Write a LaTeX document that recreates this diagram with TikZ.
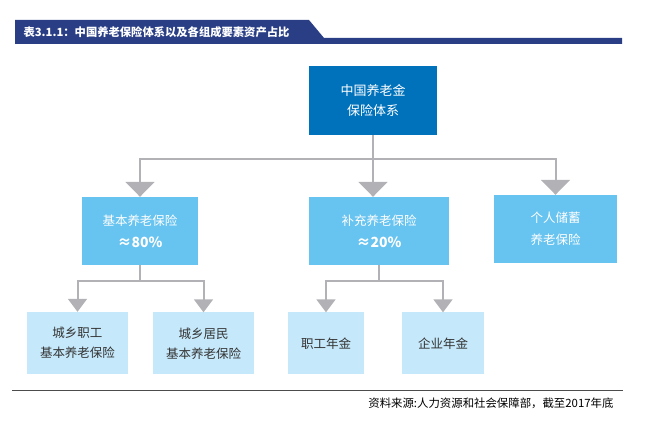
\documentclass[tikz,border=0pt]{standalone}
\usepackage{fontspec}
\newfontfamily\cjk{Noto Sans CJK SC}
\usetikzlibrary{arrows.meta}
\definecolor{headblue}{RGB}{41,62,133}
\definecolor{topblue}{RGB}{0,114,188}
\definecolor{midblue}{RGB}{103,195,240}
\definecolor{lowblue}{RGB}{197,232,250}
\definecolor{linegray}{RGB}{178,178,182}
\definecolor{textgray}{RGB}{51,51,51}

\begin{document}
\begin{tikzpicture}[x=1pt, y=-1pt,
    topbox/.style={fill=topblue, text=white, inner sep=0pt, minimum width=128pt, minimum height=69pt, align=center, font=\cjk\fontsize{13}{20}\selectfont},
    midbox/.style={fill=midblue, text=white, inner sep=0pt, minimum height=68pt, align=center, font=\cjk\fontsize{12.5}{22}\selectfont},
    lowbox/.style={fill=lowblue, text=textgray, inner sep=0pt, minimum height=62pt, align=center, font=\cjk\fontsize{12.5}{20}\selectfont},
    link/.style={draw=linegray, line width=2pt},
    bigarrow/.style={link, -{Triangle[length=15pt,width=29pt]}},
    smallarrow/.style={link, -{Triangle[length=13pt,width=19pt]}}]
      \useasboundingbox (0,0) rectangle (649,422);
      % title bar
      \fill[headblue] (15,20) -- (309,20) -- (324,38) -- (622,38) -- (622,44) -- (15,44) -- cycle;
      \node[anchor=west, text=white, font=\cjk\bfseries\fontsize{11.3}{12}\selectfont] (title) at (20,32) {表3.1.1：中国养老保险体系以及各组成要素资产占比};
      % boxes
      \node[topbox] (pension) at (373,100.5) {中国养老金\\保险体系};
      \node[midbox, minimum width=116pt] (basic) at (140,231) {基本养老保险\\{\bfseries\fontsize{14}{14}\selectfont ≈80\%}};
      \node[midbox, minimum width=140pt] (suppl) at (379,231) {补充养老保险\\{\bfseries\fontsize{14}{14}\selectfont ≈20\%}};
      \node[midbox, minimum width=123pt] (private) at (555.5,229) {个人储蓄\\养老保险};
      \node[lowbox, minimum width=101pt] (urbanworker) at (77.5,343) {城乡职工\\基本养老保险};
      \node[lowbox, minimum width=101pt] (urbanresident) at (203.5,343.5) {城乡居民\\基本养老保险};
      \node[lowbox, minimum width=76pt] (occupational) at (326,343.5) {职工年金};
      \node[lowbox, minimum width=82pt] (enterprise) at (443,343.5) {企业年金};
      % connectors
      \coordinate (bus) at (373,159);
      \draw[link] (pension.south) -- (bus);
      \draw[bigarrow] (bus) -| (basic.north);
      \draw[bigarrow] (bus) -- (bus |- suppl.north);
      \draw[bigarrow] (bus) -| (private.north);
      \coordinate (basicbus) at (140,281);
      \draw[link] (basic.south) -- (basicbus);
      \draw[smallarrow] (basicbus) -| (urbanworker.north);
      \draw[smallarrow] (basicbus) -| (urbanresident.north);
      \coordinate (supplbus) at (379,281);
      \draw[link] (suppl.south) -- (supplbus);
      \draw[smallarrow] (supplbus) -| (occupational.north);
      \draw[smallarrow] (supplbus) -| (enterprise.north);
      % source line
      \draw[black!70, line width=1pt] (12,391) -- (623,391);
      \node[anchor=east, text=black, font=\cjk\fontsize{11.4}{12}\selectfont] (source) at (617,403) {资料来源:人力资源和社会保障部，截至2017年底};
\end{tikzpicture}
\end{document}
